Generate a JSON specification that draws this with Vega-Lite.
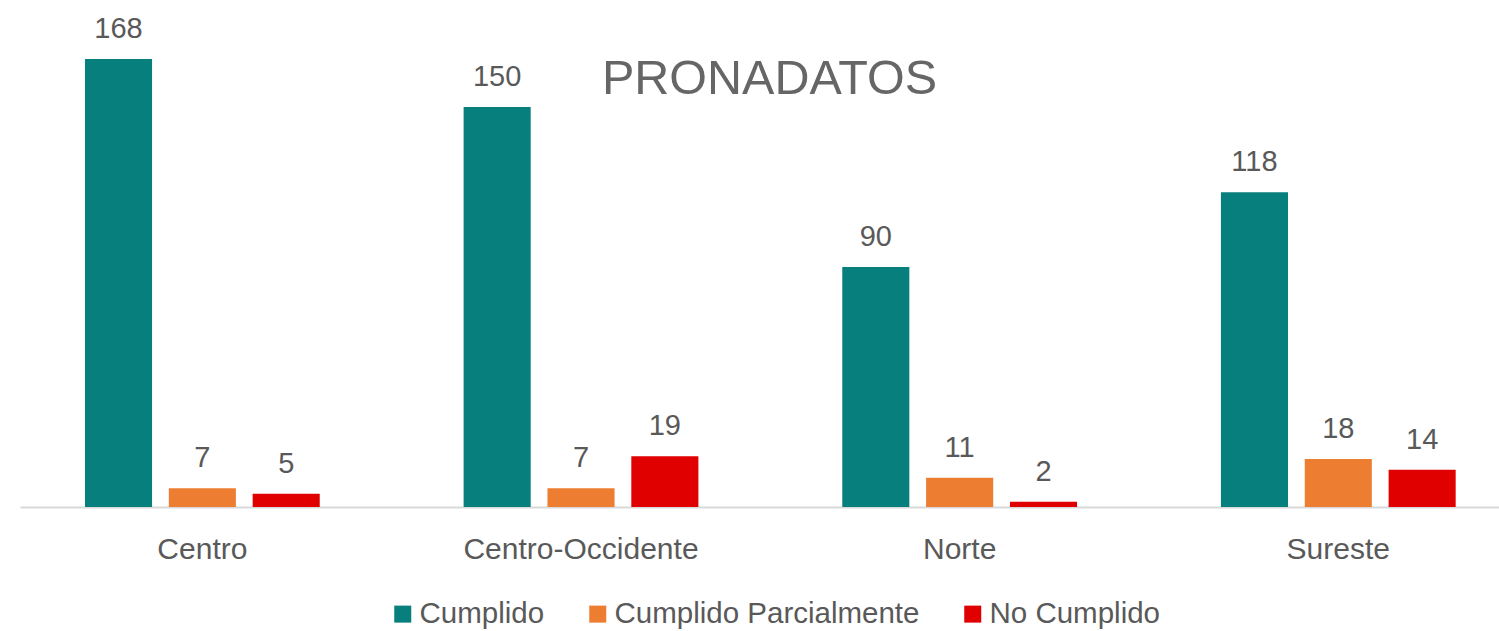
{
  "$schema": "https://vega.github.io/schema/vega-lite/v6.json",
  "autosize": {"type": "none"},
  "padding": {"left": 20, "top": 27, "right": 0, "bottom": 124},
  "width": 1479,
  "height": 480,
  "background": "white",
  "title": {
    "text": "PRONADATOS",
    "fontSize": 48.5,
    "font": "Liberation Sans",
    "fontWeight": "normal",
    "color": "#666666",
    "anchor": "middle",
    "baseline": "alphabetic",
    "offset": -127,
    "dx": 10
  },
  "config": {
    "view": {"stroke": null},
    "font": "Liberation Sans"
  },
  "data": {
    "values": [
      {"region": "Centro", "estado": "Cumplido", "valor": 168},
      {"region": "Centro", "estado": "Cumplido Parcialmente", "valor": 7},
      {"region": "Centro", "estado": "No Cumplido", "valor": 5},
      {"region": "Centro-Occidente", "estado": "Cumplido", "valor": 150},
      {"region": "Centro-Occidente", "estado": "Cumplido Parcialmente", "valor": 7},
      {"region": "Centro-Occidente", "estado": "No Cumplido", "valor": 19},
      {"region": "Norte", "estado": "Cumplido", "valor": 90},
      {"region": "Norte", "estado": "Cumplido Parcialmente", "valor": 11},
      {"region": "Norte", "estado": "No Cumplido", "valor": 2},
      {"region": "Sureste", "estado": "Cumplido", "valor": 118},
      {"region": "Sureste", "estado": "Cumplido Parcialmente", "valor": 18},
      {"region": "Sureste", "estado": "No Cumplido", "valor": 14}
    ]
  },
  "encoding": {
    "x": {
      "field": "region",
      "type": "nominal",
      "sort": null,
      "scale": {"paddingInner": 0.38, "paddingOuter": 0.143, "align": 0.6},
      "axis": {
        "title": null,
        "labelAngle": 0,
        "ticks": false,
        "domainColor": "#d9d9d9",
        "domainWidth": 2,
        "labelFontSize": 30,
        "labelColor": "#595959",
        "labelPadding": 27,
        "labelLimit": 500,
        "grid": false
      }
    },
    "xOffset": {
      "field": "estado",
      "type": "nominal",
      "sort": null,
      "scale": {"paddingInner": 0.2, "paddingOuter": 0}
    },
    "y": {
      "field": "valor",
      "type": "quantitative",
      "scale": {"domain": [0, 180]},
      "axis": null
    }
  },
  "layer": [
    {
      "mark": {"type": "bar"},
      "encoding": {
        "color": {
          "field": "estado",
          "type": "nominal",
          "sort": null,
          "scale": {
            "domain": ["Cumplido", "Cumplido Parcialmente", "No Cumplido"],
            "range": ["#077F7C", "#ED7D31", "#E00000"]
          },
          "legend": {
            "title": null,
            "orient": "none",
            "direction": "horizontal",
            "legendX": 368,
            "legendY": 572,
            "symbolType": "square",
            "symbolSize": 289,
            "symbolStrokeWidth": 0,
            "labelFontSize": 29.5,
            "labelColor": "#595959",
            "labelOffset": 2,
            "columnPadding": 38,
            "labelLimit": 500
          }
        }
      }
    },
    {
      "mark": {
        "type": "text",
        "baseline": "alphabetic",
        "dy": -21,
        "fontSize": 29,
        "color": "#595959"
      },
      "encoding": {
        "text": {"field": "valor", "type": "quantitative"}
      }
    }
  ]
}
